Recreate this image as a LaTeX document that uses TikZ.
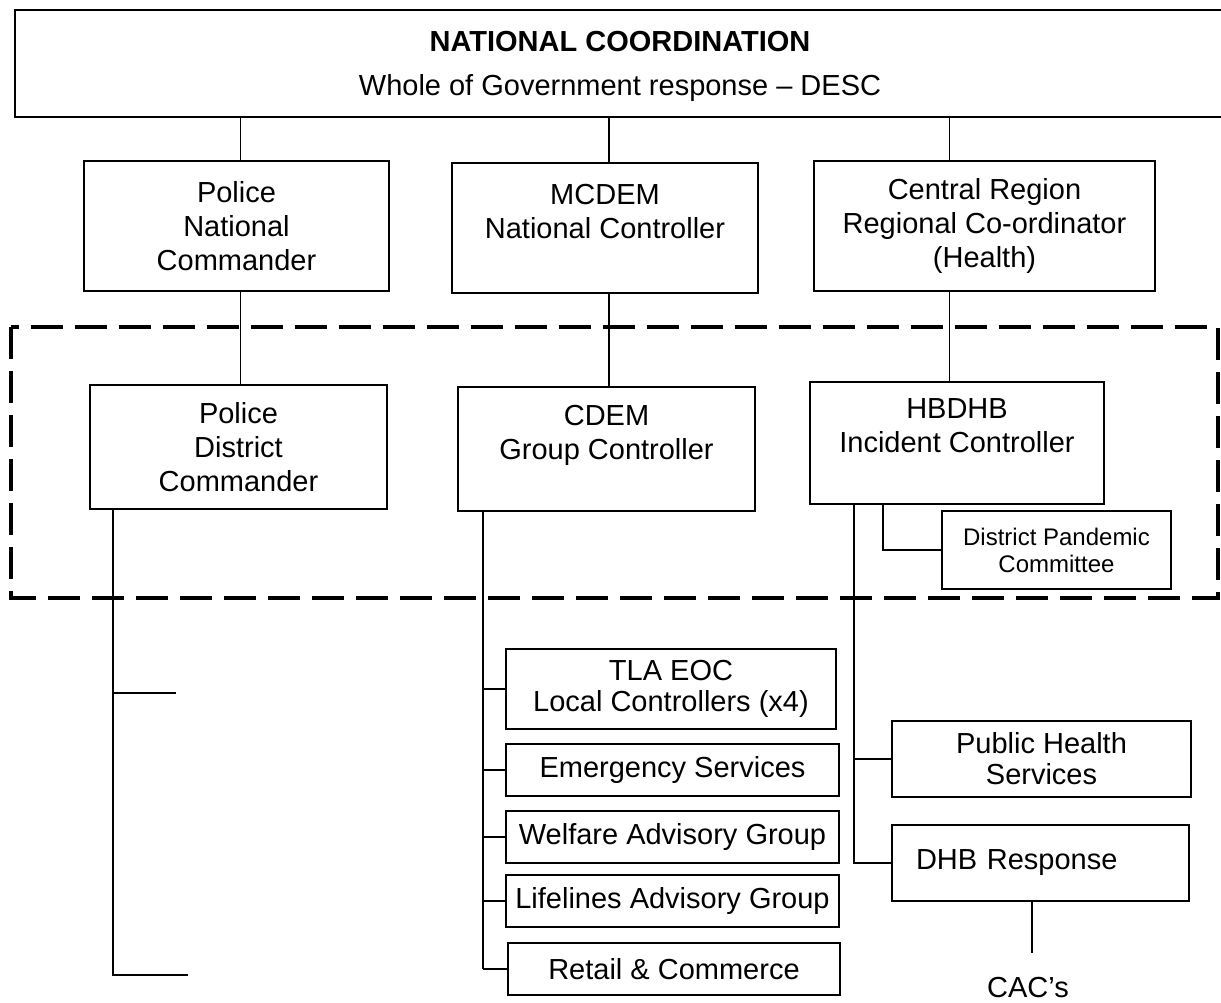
\documentclass[tikz,border=0pt]{standalone}
\usepackage{fontspec}
\setmainfont{Liberation Sans}

\begin{document}
\begin{tikzpicture}[x=1pt, y=-1pt,
  box/.style={draw, line width=2pt, align=center, inner sep=0pt, font=\fontsize{29}{34}\selectfont},
  lowbox/.style={box, font=\fontsize{29}{31}\selectfont},
  smallbox/.style={box, font=\fontsize{24}{27}\selectfont},
  link/.style={line width=1.5pt},
  zone/.style={line width=4pt, dash pattern=on 32pt off 12pt}]
\useasboundingbox (0,0) rectangle (1221,1003);
% national level:
\node[box, text depth=-4pt, minimum width=1210pt, minimum height=107pt] (natco) at (620,63.5) {\textbf{NATIONAL COORDINATION}\\[10pt]Whole of Government response -- DESC};
\node[box, minimum width=305pt, minimum height=130pt] (polnat) at (236.5,226) {Police\\National\\Commander};
\node[box, minimum width=306pt, minimum height=130pt] (mcdem) at (605,228) {MCDEM\\National Controller\\~};
\node[box, minimum width=341pt, minimum height=130pt] (central) at (984.5,226) {Central Region\\Regional Co-ordinator\\(Health)};
% group level:
\draw[zone] (11,327) rectangle (1218,598);
\node[box, minimum width=297pt, minimum height=124pt] (poldist) at (238.5,447) {Police\\District\\Commander};
\node[box, minimum width=297pt, minimum height=124pt] (cdem) at (606.5,449) {CDEM\\Group Controller\\~};
\node[box, minimum width=294pt, minimum height=122pt] (hbdhb) at (957,443) {HBDHB\\Incident Controller\\~};
\node[smallbox, minimum width=229pt, minimum height=78pt] (dpc) at (1056.5,550) {District Pandemic\\Committee};
% local level:
\node[lowbox, minimum width=330pt, minimum height=80pt] (tla) at (671,689) {TLA EOC\\Local Controllers (x4)};
\node[box, minimum width=333pt, minimum height=52pt] (emerg) at (672.5,770) {Emergency Services};
\node[box, minimum width=333pt, minimum height=52pt] (welfare) at (672.5,837) {Welfare Advisory Group};
\node[box, minimum width=333pt, minimum height=52pt] (lifeline) at (672.5,901) {Lifelines Advisory Group};
\node[box, minimum width=332pt, minimum height=52pt] (retail) at (674,969) {Retail \& Commerce};
\node[lowbox, minimum width=299pt, minimum height=76pt] (phs) at (1041.5,759) {Public Health\\Services};
\node[box, text width=249pt, align=left, inner xsep=24pt, minimum height=76pt] (dhb) at (1040.5,863) {DHB Response};
\node[font=\fontsize{29}{34}\selectfont, inner sep=0pt] (cac) at (1028,988) {CAC’s};

% connector columns:
\coordinate (xpol) at (240.5,0);
\coordinate (xmc) at (609,0);
\coordinate (xcen) at (949.5,0);
\coordinate (xpd) at (113,0);
\coordinate (xcd) at (483,0);
\coordinate (xhb) at (854,0);
\coordinate (xdpc) at (883,0);
\coordinate (xcac) at (1032,0);
\coordinate (pdtick) at (176,693);
\coordinate (pdend) at (188,975);

\draw[link] (natco.south -| xpol) -- (polnat.north -| xpol);
\draw[link] (natco.south -| xmc) -- (mcdem.north -| xmc);
\draw[link] (natco.south -| xcen) -- (central.north -| xcen);
\draw[link] (polnat.south -| xpol) -- (poldist.north -| xpol);
\draw[link] (mcdem.south -| xmc) -- (cdem.north -| xmc);
\draw[link] (central.south -| xcen) -- (hbdhb.north -| xcen);

\draw[link] (poldist.south -| xpd) |- (pdend);
\draw[link] (pdtick -| xpd) -- (pdtick);

\draw[link] (cdem.south -| xcd) -- (retail.west -| xcd);
\foreach \n in {tla,emerg,welfare,lifeline,retail}
  \draw[link] (\n.west -| xcd) -- (\n.west);

\draw[link] (hbdhb.south -| xdpc) |- (dpc.west);
\draw[link] (hbdhb.south -| xhb) |- (dhb.west);
\draw[link] (phs.west -| xhb) -- (phs.west);
\draw[link] (dhb.south -| xcac) -- ([yshift=25pt]cac.north -| xcac);
\end{tikzpicture}
\end{document}
